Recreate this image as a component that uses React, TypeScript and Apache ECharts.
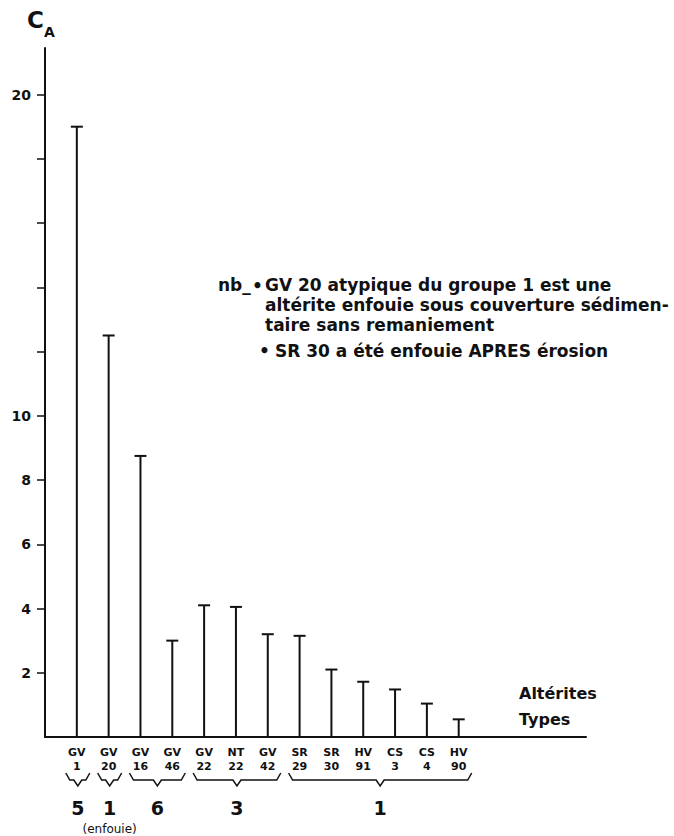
import React, { useEffect, useRef } from "react";
import * as echarts from "echarts";

const categories = ["", "GV\n1", "GV\n20", "GV\n16", "GV\n46", "GV\n22", "NT\n22", "GV\n42", "SR\n29", "SR\n30", "HV\n91", "CS\n3", "CS\n4", "HV\n90", "", "", "", ""];
const values = [19.0, 12.5, 8.75, 3.0, 4.1, 4.05, 3.2, 3.15, 2.1, 1.72, 1.48, 1.04, 0.55];
const yTickValues = [2, 4, 6, 8, 10, 12, 14, 16, 18, 20];
const yLabelValues = [2, 4, 6, 8, 10, 20];
const groups = [
  { label: "5", from: 1, to: 1, note: "" },
  { label: "1", from: 2, to: 2, note: "(enfouie)" },
  { label: "6", from: 3, to: 4, note: "" },
  { label: "3", from: 5, to: 7, note: "" },
  { label: "1", from: 8, to: 13, note: "" },
];
const noteFirst = "GV 20 atypique du groupe 1 est une";
const noteLines = [
  "altérite enfouie sous couverture sédimen-",
  "taire sans remaniement",
];
const noteSecond = "SR 30 a été enfouie APRES érosion";

const FONT = "DejaVu Sans";

export default function App() {
  const ref = useRef<HTMLDivElement>(null);
  useEffect(() => {
    if (!ref.current) return;
    const chart = echarts.init(ref.current, null, { renderer: "svg" });
    const txt = (x: number, y: number, text: string, size: number, extra: any = {}) => ({
      type: "text",
      x,
      y,
      style: {
        text,
        fontFamily: FONT,
        fontWeight: "bold",
        fontSize: size,
        fill: "#111",
        verticalAlign: "middle",
        ...extra,
      },
    });
    chart.setOption({
      animation: false,
      backgroundColor: "#fff",
      grid: { left: 45, right: 88, top: 48, bottom: 99 },
      xAxis: {
        type: "category",
        data: categories,
        boundaryGap: false,
        axisLine: { lineStyle: { color: "#111", width: 2 } },
        axisTick: { show: false },
        axisLabel: {
          interval: 0,
          margin: 8,
          fontFamily: FONT,
          fontWeight: "bold",
          fontSize: 11,
          lineHeight: 14,
          color: "#111",
        },
      },
      yAxis: {
        type: "value",
        min: 0,
        max: 21.45,
        interval: 2,
        splitLine: { show: false },
        axisLine: { show: true, lineStyle: { color: "#111", width: 2 } },
        axisTick: { show: true, length: 8, customValues: yTickValues, lineStyle: { color: "#111", width: 1.5 } },
        axisLabel: {
          customValues: yLabelValues,
          margin: 14,
          fontFamily: FONT,
          fontWeight: "bold",
          fontSize: 14,
          color: "#111",
        },
      },
      series: [
        {
          type: "custom",
          data: values.map((v, i) => [i + 1, v]),
          renderItem: (params: any, api: any) => {
            const x = api.value(0);
            const v = api.value(1);
            const top = api.coord([x, v]);
            const base = api.coord([x, 0]);
            return {
              type: "group",
              children: [
                { type: "line", shape: { x1: top[0], y1: top[1], x2: base[0], y2: base[1] }, style: { stroke: "#111", lineWidth: 2 } },
                { type: "line", shape: { x1: top[0] - 6, y1: top[1], x2: top[0] + 6, y2: top[1] }, style: { stroke: "#111", lineWidth: 2 } },
              ],
            };
          },
        },
      ],
    });

    const graphics: any[] = [];
    graphics.push(txt(27, 20, "C", 23));
    graphics.push(txt(44, 32, "A", 14));
    graphics.push(txt(218, 285, "nb_", 17));
    graphics.push(txt(252, 286, "•", 17));
    graphics.push(txt(265, 285, noteFirst, 17));
    noteLines.forEach((l, i) => graphics.push(txt(265, 305 + i * 20, l, 17)));
    graphics.push(txt(259, 351, "•", 17));
    graphics.push(txt(275, 351, noteSecond, 17));
    graphics.push(txt(519, 693, "Altérites", 16));
    graphics.push(txt(519, 719, "Types", 16));

    const baseY = chart.convertToPixel({ gridIndex: 0 }, [0, 0])[1];
    groups.forEach((g) => {
      const xa = chart.convertToPixel({ gridIndex: 0 }, [g.from, 0])[0];
      const xb = chart.convertToPixel({ gridIndex: 0 }, [g.to, 0])[0];
      const x1 = xa - 11;
      const x2 = xb + 13;
      const cx = (xa + xb) / 2 + 1;
      const y0 = baseY + 43;
      graphics.push({
        type: "polyline",
        shape: {
          points: [
            [x1, y0 - 7],
            [x1 + 4, y0],
            [cx - 4, y0],
            [cx, y0 + 6],
            [cx + 4, y0],
            [x2 - 4, y0],
            [x2, y0 - 7],
          ],
        },
        style: { stroke: "#111", lineWidth: 1.5, fill: null },
      });
      graphics.push(txt(cx, baseY + 71, g.label, 19, { align: "center" }));
      if (g.note) graphics.push(txt(cx, baseY + 92, g.note, 12, { align: "center", fontWeight: "normal" }));
    });
    chart.setOption({ graphic: graphics });

    return () => chart.dispose();
  }, []);
  return <div ref={ref} style={{ position: "absolute", left: 0, top: 0, width: 674, height: 836 }} />;
}
